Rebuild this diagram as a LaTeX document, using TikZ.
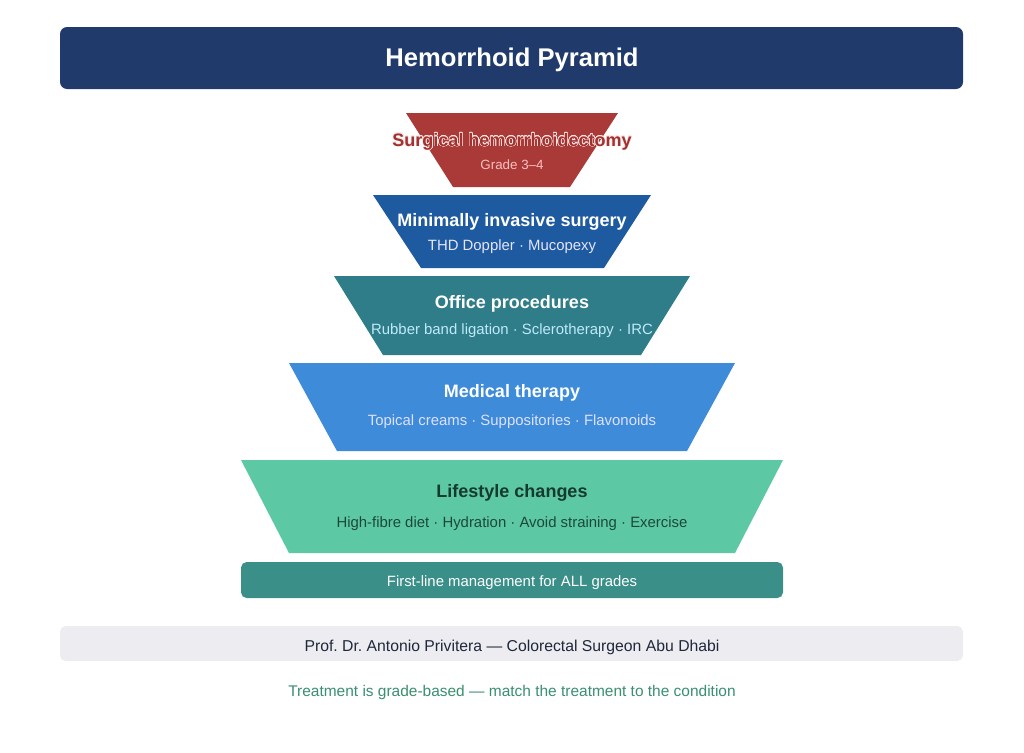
\documentclass[tikz,border=0pt]{standalone}
\usepackage{fontspec}
\setmainfont{Liberation Sans}
\usepackage{xcolor}
\definecolor{pyrnavy}{RGB}{31,58,107}
\definecolor{pyrred}{RGB}{169,58,55}
\definecolor{pyrredtxt}{RGB}{160,50,48}
\definecolor{pyrdeep}{RGB}{30,90,160}
\definecolor{pyrteal}{RGB}{47,125,136}
\definecolor{pyrblue}{RGB}{61,139,217}
\definecolor{pyrmint}{RGB}{92,201,164}
\definecolor{pyrbar}{RGB}{58,143,136}
\definecolor{pyrgrey}{RGB}{236,236,241}
\definecolor{pyrink}{RGB}{30,40,58}
\definecolor{pyrnote}{RGB}{58,143,112}
\definecolor{pyrforest}{RGB}{22,58,45}
\usepackage{tikz}
\usetikzlibrary{positioning}
\usepackage{contour}
\contourlength{0.45pt}
\frenchspacing

\begin{document}
\begin{tikzpicture}[
    x=0.025cm, y=-0.025cm,
    headtxt/.style={text=white, font=\bfseries\fontsize{18.2}{22}\selectfont},
    laytitle/.style={font=\bfseries\fontsize{12.8}{15}\selectfont},
    laysub/.style={font=\fontsize{10.6}{13}\selectfont},
    bandtxt/.style={font=\fontsize{10.6}{13}\selectfont},
]
\useasboundingbox (0,0) rectangle (1024,752);

% header
\fill[pyrnavy, rounded corners=5pt] (60,27) rectangle (963,89);
\node[headtxt] (head) at (512,60) {Hemorrhoid Pyramid};

% pyramid layers, top (narrow) to bottom (wide)
\fill[pyrred]  (406,113) -- (618,113) -- (570,187) -- (453,187) -- cycle;
\fill[pyrdeep] (373,195) -- (651,195) -- (604,268) -- (421,268) -- cycle;
\fill[pyrteal] (334,276) -- (690,276) -- (641,355) -- (383,355) -- cycle;
\fill[pyrblue] (289,363) -- (735,363) -- (687,451) -- (337,451) -- cycle;
\fill[pyrmint] (241,460) -- (783,460) -- (735,553) -- (289,553) -- cycle;

\node[laytitle, text=pyrredtxt] (surg) at (512,142) {\contour{red!10}{Surgical hemorrhoidectomy}};
\node[laysub, text=red!25, font=\fontsize{9.5}{12}\selectfont] (surgsub) at (512,165) {Grade 3–4};

\node[laytitle, text=white] (mis) at (512,222) {Minimally invasive surgery};
\node[laysub, text=blue!10] (missub) at (512,247) {THD Doppler · Mucopexy};

\node[laytitle, text=white] (office) at (512,304) {Office procedures};
\node[laysub, text=cyan!25] (officesub) at (512,331) {Rubber band ligation · Sclerotherapy · IRC};

\node[laytitle, text=white] (med) at (512,393) {Medical therapy};
\node[laysub, text=blue!12] (medsub) at (512,422) {Topical creams · Suppositories · Flavonoids};

\node[laytitle, text=pyrforest] (life) at (512,493) {Lifestyle changes};
\node[laysub, text=pyrforest!90!pyrmint] (lifesub) at (512,524) {High-fibre diet · Hydration · Avoid straining · Exercise};

% base band
\fill[pyrbar, rounded corners=4pt] (241,562) rectangle (783,598);
\node[bandtxt, text=white] (base) at (512,583) {First-line management for ALL grades};

% footer
\fill[pyrgrey, rounded corners=4pt] (60,626) rectangle (963,661);
\node[bandtxt, text=pyrink, font=\fontsize{11.2}{14}\selectfont] (author) at (512,647) {Prof. Dr. Antonio Privitera — Colorectal Surgeon Abu Dhabi};
\node[bandtxt, text=pyrnote, font=\fontsize{11}{14}\selectfont] (note) at (512,692) {Treatment is grade-based — match the treatment to the condition};

\end{tikzpicture}
\end{document}
